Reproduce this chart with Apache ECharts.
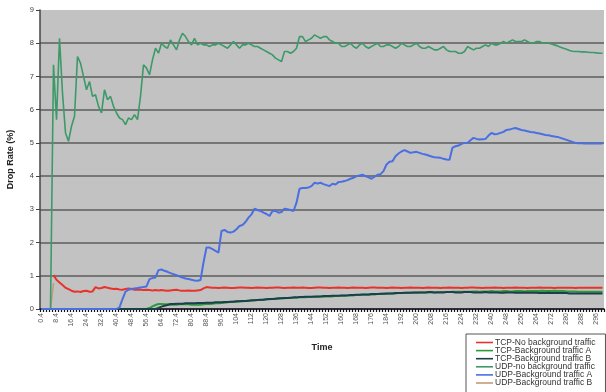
<!DOCTYPE html>
<html>
<head>
<meta charset="utf-8">
<script src="https://cdn.jsdelivr.net/npm/echarts@6/dist/echarts.min.js"></script>
<style>
  html, body { margin: 0; padding: 0; background: #ffffff; }
  #chart { width: 606px; height: 392px; }
</style>
</head>
<body>
<div id="chart"></div>
<script>
// Time axis: one sample every 1.6 s starting at 0.4 s, 188 samples
const timeStart = 0.4;
const timeStep = 1.6;
const sampleCount = 188;
const timeCategories = [];
for (let i = 0; i < sampleCount; i++) {
  timeCategories.push((timeStart + timeStep * i).toFixed(1));
}

// Drop rate (%) per sample
const tcpNoBackground = [
  null, null, null, null, 1.02, 0.88, 0.80, 0.72, 0.64, 0.60,
  0.55, 0.52, 0.53, 0.51, 0.54, 0.55, 0.52, 0.53, 0.66, 0.62,
  0.63, 0.66, 0.64, 0.62, 0.60, 0.61, 0.59, 0.58, 0.60, 0.62,
  0.60, 0.58, 0.59, 0.58, 0.57, 0.58, 0.57, 0.56, 0.57, 0.56,
  0.57, 0.56, 0.55, 0.56, 0.57, 0.58, 0.56, 0.55, 0.55, 0.56,
  0.55, 0.55, 0.56, 0.57, 0.62, 0.66,
  0.65, 0.64, 0.64, 0.63, 0.64, 0.65, 0.64, 0.63, 0.63, 0.64,
  0.65, 0.65, 0.64, 0.64, 0.63, 0.64, 0.65, 0.64, 0.64, 0.63,
  0.64, 0.64, 0.65, 0.65, 0.64, 0.63, 0.64, 0.64, 0.65, 0.64,
  0.64, 0.65, 0.64, 0.63, 0.63, 0.64, 0.65, 0.65, 0.64, 0.64,
  0.63, 0.64, 0.64, 0.65, 0.64, 0.64, 0.63, 0.64, 0.65, 0.64,
  0.64, 0.64, 0.63, 0.64, 0.65, 0.65, 0.64, 0.64, 0.64, 0.63,
  0.64, 0.65, 0.64, 0.64, 0.63, 0.64, 0.64, 0.65, 0.64, 0.64,
  0.64, 0.63, 0.64, 0.65, 0.64, 0.64, 0.64, 0.63, 0.64, 0.64,
  0.65, 0.64, 0.64, 0.64, 0.63, 0.64, 0.64, 0.65, 0.65, 0.64,
  0.64, 0.63, 0.64, 0.64, 0.64, 0.65, 0.64, 0.64, 0.63, 0.64,
  0.64, 0.64, 0.65, 0.64, 0.64, 0.64, 0.63, 0.64, 0.64, 0.64,
  0.65, 0.64, 0.64, 0.64, 0.64, 0.63, 0.64, 0.64, 0.64, 0.64,
  0.64, 0.64, 0.63, 0.64, 0.64, 0.64, 0.64, 0.64, 0.64, 0.64,
  0.64, 0.64
];

const tcpBackgroundA = [
  0, 0, 0, 0, 0, 0, 0, 0, 0, 0,
  0, 0, 0, 0, 0, 0, 0, 0, 0, 0,
  0, 0, 0, 0, 0, 0, 0, 0, 0, 0,
  0, 0, 0, 0, 0, 0, 0.03, 0.08, 0.12, 0.15,
  0.15, 0.14, 0.14, 0.13, 0.13, 0.13, 0.14, 0.14, 0.14, 0.14,
  0.13, 0.13, 0.13, 0.13,
  0.14, 0.15, 0.15, 0.16, 0.17, 0.17, 0.18, 0.19, 0.20, 0.21, 0.22,
  0.22, 0.23, 0.23, 0.24, 0.25, 0.25, 0.26, 0.27, 0.27, 0.28, 0.29, 0.29, 0.30, 0.31, 0.31, 0.32,
  0.32, 0.33, 0.33, 0.34, 0.34, 0.35, 0.35, 0.35, 0.36, 0.36, 0.36, 0.37, 0.37, 0.37, 0.38, 0.38, 0.38,
  0.39, 0.39, 0.40, 0.40, 0.41, 0.41, 0.41, 0.42, 0.42, 0.43, 0.43, 0.43,
  0.44, 0.44, 0.45, 0.45, 0.46, 0.46, 0.47, 0.47, 0.47, 0.48, 0.48,
  0.48, 0.49, 0.49, 0.49, 0.49, 0.50, 0.50, 0.50, 0.50, 0.50, 0.50,
  0.51, 0.51, 0.51, 0.51, 0.51, 0.52, 0.52, 0.52, 0.52, 0.52, 0.52,
  0.52, 0.53, 0.53, 0.52, 0.53, 0.53, 0.53, 0.54, 0.53, 0.53, 0.53,
  0.54, 0.54, 0.53, 0.53, 0.54, 0.54, 0.54, 0.53, 0.54, 0.54, 0.54,
  0.54, 0.54, 0.55, 0.54, 0.54, 0.54, 0.55, 0.54, 0.54,
  0.54, 0.53, 0.53, 0.53, 0.53, 0.52, 0.52, 0.52, 0.52, 0.52, 0.52, 0.52, 0.52, 0.52
];

const tcpBackgroundB = [
  0, 0, 0, 0, 0, 0, 0, 0, 0, 0,
  0, 0, 0, 0, 0, 0, 0, 0, 0, 0,
  0, 0, 0, 0, 0, 0, 0, 0, 0, 0,
  0, 0, 0, 0, 0, 0, 0, 0, 0, 0.03,
  0.07, 0.10, 0.12, 0.15, 0.15, 0.16, 0.16, 0.16, 0.17, 0.17,
  0.17, 0.17, 0.18, 0.18,
  0.18, 0.19, 0.19, 0.19, 0.20, 0.20, 0.20, 0.21, 0.21, 0.22, 0.22,
  0.23, 0.23, 0.24, 0.24, 0.25, 0.26, 0.26, 0.27, 0.28, 0.28, 0.29, 0.30, 0.30, 0.31, 0.32, 0.32,
  0.33, 0.33, 0.34, 0.35, 0.35, 0.36, 0.36, 0.37, 0.37, 0.37, 0.38, 0.38, 0.38, 0.39, 0.39, 0.39, 0.40,
  0.40, 0.40, 0.41, 0.41, 0.41, 0.42, 0.42, 0.43, 0.43, 0.44, 0.44, 0.44,
  0.45, 0.45, 0.45, 0.46, 0.46, 0.47, 0.47, 0.47, 0.48, 0.48, 0.48,
  0.49, 0.49, 0.49, 0.50, 0.50, 0.50, 0.50, 0.50, 0.51, 0.51, 0.50,
  0.50, 0.50, 0.50, 0.51, 0.51, 0.51, 0.50, 0.50, 0.50, 0.51, 0.51,
  0.51, 0.50, 0.50, 0.50, 0.50, 0.51, 0.50, 0.50, 0.50, 0.50, 0.49,
  0.49, 0.50, 0.50, 0.50, 0.49, 0.49, 0.49, 0.50, 0.49, 0.49, 0.49,
  0.49, 0.48, 0.48, 0.48, 0.49, 0.48, 0.48, 0.48, 0.48,
  0.48, 0.48, 0.47, 0.47, 0.47, 0.47, 0.47, 0.47, 0.47, 0.47, 0.47, 0.47, 0.47, 0.47
];

const udpNoBackground = [
  0, 0, 0, 0, 7.35, 5.70, 8.15, 6.50, 5.30, 5.05,
  5.50, 5.80, 7.60, 7.40, 7.00, 6.60, 6.85, 6.40, 6.45, 6.10,
  5.90, 6.60, 6.30, 6.40, 6.10, 5.90, 5.75, 5.70, 5.55, 5.75,
  5.70, 5.85, 5.70, 6.40, 7.35, 7.25, 7.05, 7.50, 7.85, 7.70,
  8.00, 7.90, 7.85, 8.10, 7.95, 7.80, 8.10, 8.30, 8.20, 8.05,
  7.95, 8.15, 7.95, 8.00, 7.95, 7.95, 7.90, 7.95, 7.95, 8.00,
  7.95, 7.90, 7.85, 7.95, 8.05, 7.95, 7.85, 7.95, 7.95, 8.00,
  7.95, 7.90, 7.90, 7.85, 7.80, 7.75, 7.70, 7.65, 7.55, 7.50,
  7.45, 7.75, 7.75, 7.70, 7.75, 7.85, 8.20, 8.20, 8.05, 8.10,
  8.15, 8.25, 8.20, 8.15, 8.20, 8.20, 8.10, 8.05, 8.00, 8.00,
  7.90, 7.90, 7.95, 8.00, 7.90, 7.85, 7.95, 8.00, 7.90, 7.85,
  7.90, 7.95, 8.00, 7.90, 7.90, 7.95, 7.95, 7.90, 7.85, 7.90,
  8.00, 7.95, 7.90, 7.90, 7.95, 8.00, 7.90, 7.85, 7.85, 7.90,
  7.85, 7.80, 7.80, 7.85, 7.90, 7.80, 7.75, 7.75, 7.75, 7.70,
  7.70, 7.75, 7.90, 7.85, 7.80, 7.85, 7.85, 7.90, 7.95, 7.90,
  8.00, 7.95, 7.95, 8.00, 8.05, 8.00, 8.05, 8.10, 8.05, 8.05,
  8.05, 8.10, 8.05, 8.00, 8.00, 8.05, 8.05, 8.00, 8.00, 8.00,
  7.98, 7.95, 7.92, 7.88, 7.85, 7.82, 7.78, 7.76, 7.75, 7.75,
  7.74, 7.74, 7.73, 7.72, 7.72, 7.71, 7.70, 7.70
];

const udpBackgroundA = [
  0, 0, 0, 0, 0, 0, 0, 0, 0, 0,
  0, 0, 0, 0, 0, 0, 0, 0, 0, 0,
  0, 0, 0, 0, 0, 0, 0.05, 0.30, 0.52, 0.58,
  0.60, 0.62, 0.63, 0.65, 0.66, 0.68, 0.90, 0.93, 0.95, 1.17,
  1.19, 1.15, 1.12, 1.08, 1.05, 1.02, 0.98, 0.95, 0.92, 0.90,
  0.88, 0.86, 0.85, 0.87, 1.40, 1.85, 1.85, 1.80, 1.75, 1.70,
  2.35, 2.38, 2.32, 2.30, 2.33, 2.40, 2.50, 2.53, 2.62, 2.75,
  2.85, 3.02, 2.98, 2.95, 2.90, 2.86, 2.80, 2.95, 2.95, 2.90,
  2.92, 3.02, 3.00, 2.98, 2.95, 3.20, 3.62, 3.64, 3.64, 3.66,
  3.70, 3.80, 3.78, 3.80, 3.76, 3.73, 3.70, 3.77, 3.75, 3.82,
  3.83, 3.85, 3.88, 3.92, 3.95, 4.00, 4.02, 4.04, 4.00, 3.96,
  3.92, 3.98, 4.04, 4.06, 4.15, 4.35, 4.43, 4.45, 4.60, 4.68,
  4.74, 4.78, 4.74, 4.70, 4.72, 4.73, 4.70, 4.67, 4.65, 4.62,
  4.59, 4.57, 4.56, 4.55, 4.52, 4.50, 4.49, 4.86, 4.90, 4.92,
  4.97, 5.00, 5.00, 5.08, 5.15, 5.12, 5.10, 5.11, 5.12, 5.22,
  5.30, 5.26, 5.27, 5.30, 5.33, 5.39, 5.40, 5.43, 5.45, 5.42,
  5.39, 5.37, 5.35, 5.33, 5.32, 5.30, 5.28, 5.26, 5.24, 5.23,
  5.21, 5.19, 5.18, 5.15, 5.12, 5.09, 5.06, 5.03, 5.00, 4.99,
  4.99, 4.98, 4.98, 4.98, 4.98, 4.98, 4.98, 4.98
];

const udpBackgroundB = [0, 0, 0, 0, 0.78];

const seriesNames = [
  'TCP-No background traffic',
  'TCP-Background traffic A',
  'TCP-Background traffic B',
  'UDP-no background traffic',
  'UDP-Background traffic A',
  'UDP-Background traffic B'
];
const seriesData = [tcpNoBackground, tcpBackgroundA, tcpBackgroundB, udpNoBackground, udpBackgroundA, udpBackgroundB];
const seriesColors = ['#e8332c', '#2f9a3c', '#1c3f4c', '#3c9a68', '#4a6fe2', '#c49a7a'];
const seriesWidths = [2, 2, 2, 1.6, 2, 1.6];
const seriesZ = [3, 3, 3, 3, 4, 2];

const yTicks = [0, 1, 2, 3, 4, 5, 6, 7, 8, 9];

const chart = echarts.init(document.getElementById('chart'), null, { renderer: 'canvas' });

const font = 'Liberation Sans, Arial, sans-serif';

chart.setOption({
  animation: false,
  backgroundColor: '#ffffff',
  textStyle: { fontFamily: font },
  grid: {
    left: 40, top: 10, right: 2, bottom: 83,
    outerBoundsMode: 'none',
    containLabel: false,
    show: true, backgroundColor: '#c2c2c2', borderWidth: 0
  },
  xAxis: {
    type: 'category',
    data: timeCategories,
    boundaryGap: true,
    name: 'Time',
    nameLocation: 'middle',
    nameGap: 34,
    nameTextStyle: { fontSize: 9, fontWeight: 'bold', color: '#222', fontFamily: font },
    axisLine: { show: true, lineStyle: { color: '#1a1a2e', width: 1.5 } },
    axisTick: { show: true, interval: 0, length: 3, lineStyle: { color: '#111', width: 1.2 } },
    axisLabel: {
      interval: 4,
      rotate: 90,
      fontSize: 7,
      color: '#555',
      margin: 4,
      fontFamily: font,
      formatter: function (v) {
        const n = parseFloat(v);
        return n >= 100 ? String(Math.round(n)) : n.toFixed(1);
      }
    },
    splitLine: { show: false }
  },
  yAxis: {
    type: 'value',
    min: yTicks[0],
    max: yTicks[yTicks.length - 1],
    interval: 1,
    name: 'Drop Rate (%)',
    nameLocation: 'middle',
    nameGap: 25,
    nameRotate: 90,
    nameTextStyle: { fontSize: 9, fontWeight: 'bold', color: '#222', fontFamily: font },
    axisLine: { show: true, lineStyle: { color: '#444', width: 1.5 } },
    axisTick: { show: true, length: 4, lineStyle: { color: '#444' } },
    axisLabel: { fontSize: 7.5, color: '#444', margin: 6, fontFamily: font },
    splitLine: { show: true, showMaxLine: false, lineStyle: { color: '#5c5c5c', width: 1.6 } }
  },
  legend: {
    type: 'plain',
    orient: 'vertical',
    left: 466,
    top: 334,
    height: 120,
    padding: [4, 10, 6, 10],
    backgroundColor: '#ffffff',
    borderColor: '#555',
    borderWidth: 1,
    borderRadius: 0,
    itemWidth: 17,
    itemHeight: 6,
    itemGap: -0.9,
    icon: 'path://M0,4 L17,4 L17,5.6 L0,5.6 Z',
    textStyle: { fontSize: 8.5, color: '#333', lineHeight: 7.5, fontFamily: font, padding: [0, 0, 0, -3] },
    data: seriesNames
  },
  series: seriesNames.map(function (name, k) {
    return {
      name: name,
      type: 'line',
      data: seriesData[k],
      showSymbol: false,
      symbol: 'none',
      connectNulls: false,
      z: seriesZ[k],
      color: seriesColors[k],
      lineStyle: { color: seriesColors[k], width: seriesWidths[k] },
      emphasis: { disabled: true }
    };
  })
});
</script>
</body>
</html>
